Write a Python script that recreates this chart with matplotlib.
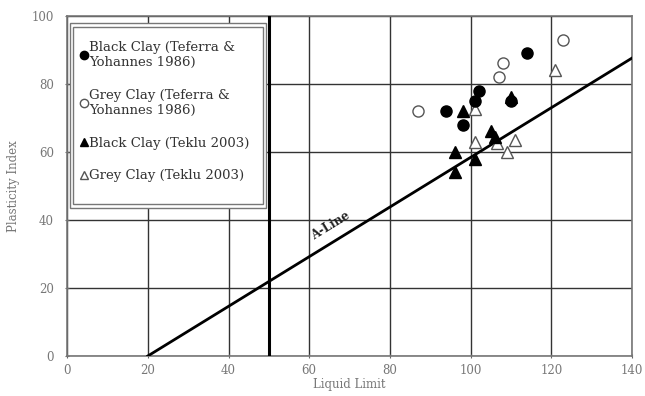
import matplotlib
matplotlib.use('Agg')
import matplotlib.pyplot as plt
import numpy as np
from matplotlib.patches import Rectangle

# Black Clay (Teferra & Yohannes 1986)
bc_ty_ll = [114, 102, 101, 110, 94, 98]
bc_ty_pi = [89, 78, 75, 75, 72, 68]
# Grey Clay (Teferra & Yohannes 1986)
gc_ty_ll = [123, 108, 107, 87]
gc_ty_pi = [93, 86, 82, 72]
# Black Clay (Teklu 2003)
bc_t_ll = [98, 110, 105, 106, 96, 101, 96]
bc_t_pi = [72, 76, 66, 64.5, 60, 58, 54]
# Grey Clay (Teklu 2003)
gc_t_ll = [121, 101, 101, 106.5, 111, 109]
gc_t_pi = [84, 72.5, 63, 62.5, 63.5, 60]

plt.rcParams['font.family'] = 'DejaVu Serif'

fig = plt.figure(figsize=(6.45, 3.96), dpi=100)
ax = fig.add_axes([0.104, 0.101, 0.876, 0.859])

ax.set_xlim(0, 140)
ax.set_ylim(0, 100)
ax.set_xticks(np.arange(0, 141, 20))
ax.set_yticks(np.arange(0, 101, 20))
ax.grid(True, color='#333333', linewidth=1.0)
ax.set_axisbelow(True)
for s in ax.spines.values():
    s.set_color('#777777')
    s.set_linewidth(1.2)
ax.tick_params(colors='#666666', labelsize=8.5, length=3, direction='inout',
               labelcolor='#777777')
ax.tick_params(axis='y', pad=8)
ax.tick_params(axis='x', pad=4)

# A-line and LL=50 line
ll = np.array([20, 140])
ax.plot(ll, 0.73 * (ll - 20), color='black', linewidth=2.0, zorder=3)
ax.axvline(50, color='black', linewidth=2.2, zorder=3)
ax.text(65.2, 38.3, 'A-Line', rotation=31.5, ha='center', va='center',
        fontsize=8.5, fontweight='bold', color='#222222', zorder=4)

ms = 8
ax.plot(bc_ty_ll, bc_ty_pi, 'o', color='black', ms=ms, ls='none', zorder=5,
        label='Black Clay (Teferra &\nYohannes 1986)')
ax.plot(gc_ty_ll, gc_ty_pi, 'o', mfc='white', mec='#555555', mew=1.0, ms=ms, ls='none', zorder=5,
        label='Grey Clay (Teferra &\nYohannes 1986)')
ax.plot(bc_t_ll, bc_t_pi, '^', color='black', ms=ms, ls='none', zorder=6,
        label='Black Clay (Teklu 2003)')
ax.plot(gc_t_ll, gc_t_pi, '^', mfc='white', mec='#555555', mew=1.0, ms=ms, ls='none', zorder=4,
        label='Grey Clay (Teklu 2003)')

# double-bordered legend box
ax.add_patch(Rectangle((0.005, 0.435), 0.347, 0.544, transform=ax.transAxes,
                       facecolor='white', edgecolor='#777777', linewidth=1.0, zorder=9))
ax.add_patch(Rectangle((0.0106, 0.447), 0.3364, 0.520, transform=ax.transAxes,
                       facecolor='white', edgecolor='#777777', linewidth=1.0, zorder=9))

leg = ax.legend(loc='upper left', bbox_to_anchor=(0.004, 0.965), fontsize=9.5,
                frameon=False, handlelength=0.25, handletextpad=0.25,
                markerscale=0.75, labelspacing=1.5, borderpad=0.5,
                labelcolor='#333333')
leg.set_zorder(10)

ax.set_xlabel('Liquid Limit', fontsize=8.5, color='#777777', labelpad=1)
ax.set_ylabel('Plasticity Index', fontsize=8.5, color='#777777', labelpad=8)

fig.savefig('out.png', dpi=100)
